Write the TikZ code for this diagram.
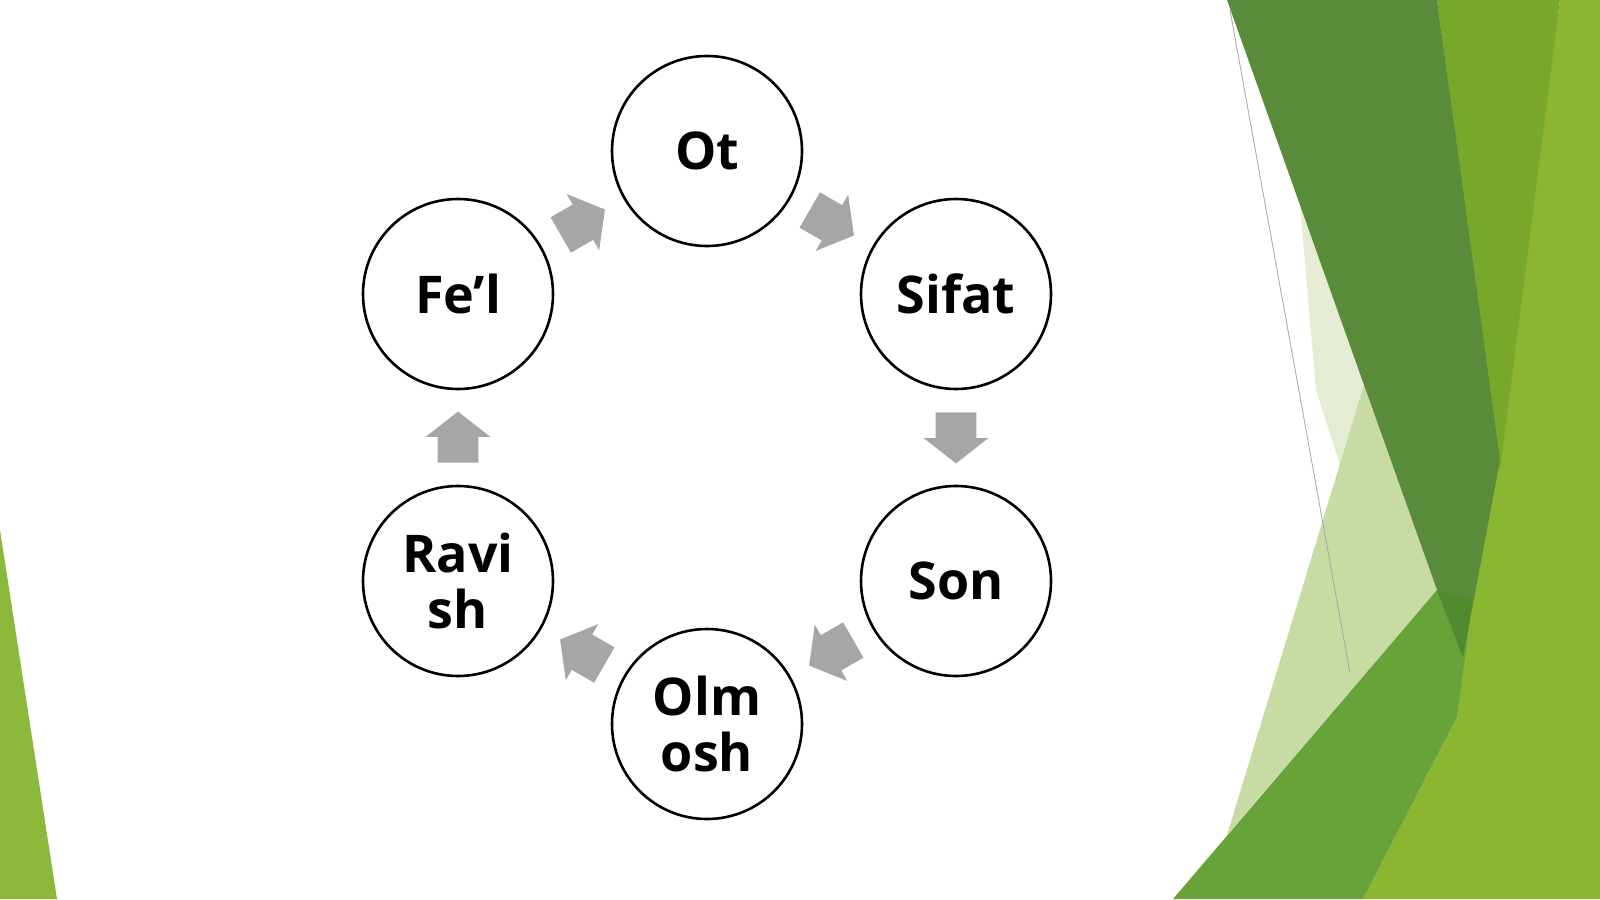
\documentclass[tikz,border=0pt]{standalone}
\usepackage{fontspec}
\setmainfont{Open Sans}
\usetikzlibrary{shapes.arrows,calc}
\definecolor{darkband}{HTML}{5A8B3A}
\definecolor{darkover}{HTML}{4E8A2E}
\definecolor{midband}{HTML}{78A82A}
\definecolor{limeR}{HTML}{8AB631}
\definecolor{medband}{HTML}{68A33A}
\definecolor{pale}{HTML}{C8DBA5}
\definecolor{palefaint}{HTML}{E4ECD4}
\definecolor{leftgreen}{HTML}{8CB93C}
\definecolor{arrowgray}{HTML}{A6A6A6}
\begin{document}
\begin{tikzpicture}[x=0.5pt,y=-0.5pt,
  circ/.style={circle, draw=black, line width=1.3pt, fill=white, minimum size=95pt, inner sep=0pt,
    align=center, font=\bfseries\fontsize{26}{28}\selectfont},
  blockarrow/.style={single arrow, fill=arrowgray, draw=none, minimum height=25.5pt, anchor=tail,
    single arrow head extend=6pt, single arrow tip angle=104, inner xsep=0pt, inner ysep=10pt}]
\useasboundingbox (0,0) rectangle (1600,899);
\fill[white] (0,0) rectangle (1600,899);
% left decoration
\fill[leftgreen] (0,530) -- (57,899) -- (0,899) -- cycle;
% right decoration
\fill[limeR] (1560,0) -- (1600,0) -- (1600,899) -- (1363,899) -- (1457,717) -- (1463,657) -- (1500,445) -- cycle;
\fill[midband] (1437,0) -- (1560,0) -- (1500,470) -- cycle;
\fill[palefaint] (1300,205) -- (1368,392) -- (1340,465) -- (1316,390) -- cycle;
\fill[pale] (1364,385) -- (1437,590) -- (1227,835) -- cycle;
\fill[medband] (1173,899) -- (1437,590) -- (1470,620) -- (1457,717) -- (1363,899) -- cycle;
\fill[darkband] (1227,0) -- (1437,0) -- (1500,460) -- (1463,657) -- (1437,590) -- cycle;
\fill[darkover] (1437,590) -- (1472,600) -- (1463,657) -- cycle;
\draw[gray!70, line width=0.4pt] (1230,10) -- (1350,673);
% circles
\node[circ] (ot) at (707,151) {Ot};
\node[circ] (sifat) at (956,294) {Sifat};
\node[circ] (son) at (956,581) {Son};
\node[circ] (olmosh) at (707,724) {Olm\\osh};
\node[circ] (ravish) at (458,581) {Ravi\\sh};
\node[circ] (fel) at (458,294) {Fe’l};
% block arrows
\coordinate (m1) at ($(ot)!0.5!(sifat)$);
\coordinate (m2) at ($(sifat)!0.5!(son)$);
\coordinate (m3) at ($(son)!0.5!(olmosh)$);
\coordinate (m4) at ($(olmosh)!0.5!(ravish)$);
\coordinate (m5) at ($(ravish)!0.5!(fel)$);
\coordinate (m6) at ($(fel)!0.5!(ot)$);
\node[blockarrow, rotate=-30] (a1) at ($(m1)!12.75pt!(ot)$) {};
\node[blockarrow, rotate=-90] (a2) at ($(m2)!12.75pt!(sifat)$) {};
\node[blockarrow, rotate=-150] (a3) at ($(m3)!12.75pt!(son)$) {};
\node[blockarrow, rotate=150] (a4) at ($(m4)!12.75pt!(olmosh)$) {};
\node[blockarrow, rotate=90] (a5) at ($(m5)!12.75pt!(ravish)$) {};
\node[blockarrow, rotate=30] (a6) at ($(m6)!12.75pt!(fel)$) {};
\end{tikzpicture}
\end{document}
